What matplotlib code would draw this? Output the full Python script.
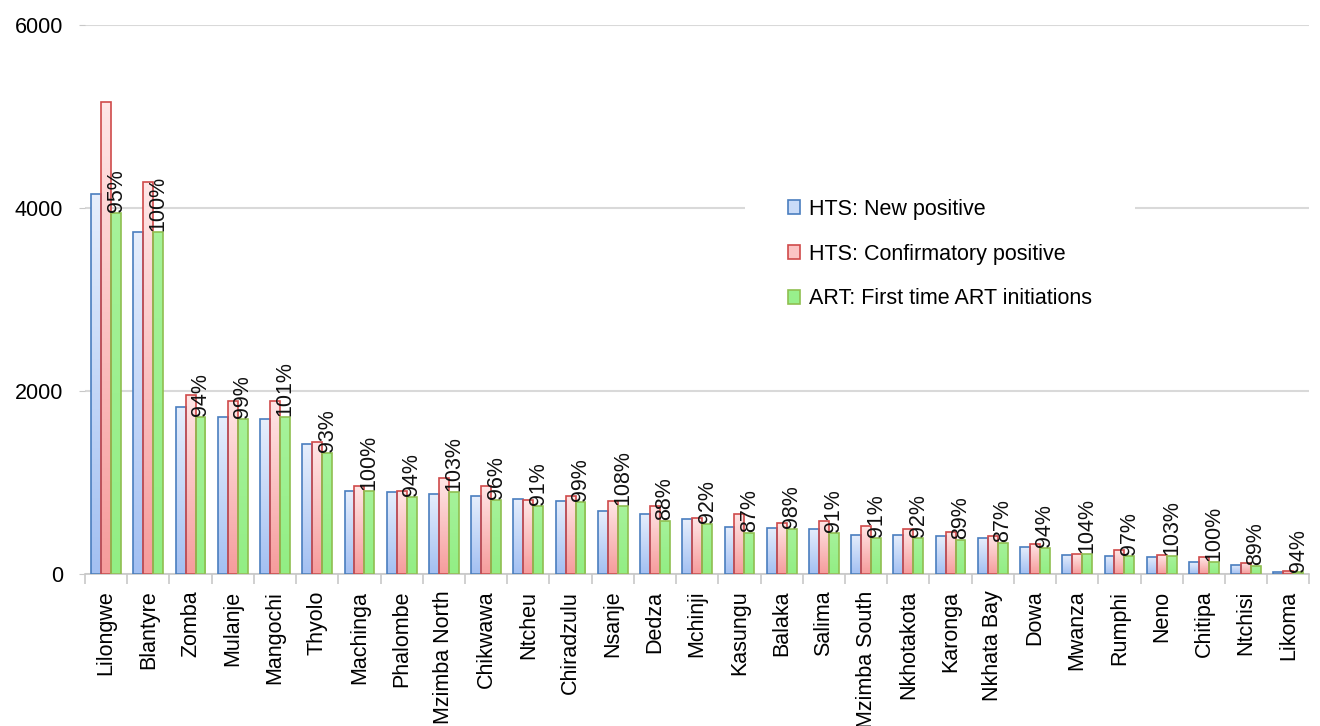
import numpy as np
import matplotlib
matplotlib.use('Agg')
import matplotlib.pyplot as plt
from matplotlib.colors import LinearSegmentedColormap
from matplotlib.patches import Patch

plt.rcParams['font.family'] = ['Liberation Sans', 'DejaVu Sans']

districts = ["Lilongwe", "Blantyre", "Zomba", "Mulanje", "Mangochi", "Thyolo",
             "Machinga", "Phalombe", "Mzimba North", "Chikwawa", "Ntcheu",
             "Chiradzulu", "Nsanje", "Dedza", "Mchinji", "Kasungu", "Balaka",
             "Salima", "Mzimba South", "Nkhotakota", "Karonga", "Nkhata Bay",
             "Dowa", "Mwanza", "Rumphi", "Neno", "Chitipa", "Ntchisi", "Likoma"]

new_positive = [4150, 3740, 1824, 1714, 1699, 1420, 912, 894, 875, 850, 824,
                799, 685, 660, 598, 516, 505, 492, 429, 425, 414, 392, 300,
                208, 201, 190, 130, 100, 18]
confirmatory = [5160, 4280, 1956, 1890, 1890, 1442, 960, 908, 1048, 960, 806,
                853, 799, 747, 612, 659, 553, 582, 520, 491, 454, 414, 330,
                216, 260, 205, 183, 121, 33]
art_initiations = [3950, 3740, 1714, 1699, 1714, 1318, 912, 839, 900, 813,
                   747, 791, 740, 580, 548, 452, 495, 446, 392, 392, 368, 341,
                   282, 216, 195, 196, 130, 89, 17]
pct_labels = ["95%", "100%", "94%", "99%", "101%", "93%", "100%", "94%",
              "103%", "96%", "91%", "99%", "108%", "88%", "92%", "87%", "98%",
              "91%", "91%", "92%", "89%", "87%", "94%", "104%", "97%", "103%",
              "100%", "89%", "94%"]

series = [
    ("HTS: New positive", new_positive, "#4a7ebf", ["#a3c0f2", "#e6eefc"]),
    ("HTS: Confirmatory positive", confirmatory, "#cf4a4a", ["#f69c9c", "#ffe6e6"]),
    ("ART: First time ART initiations", art_initiations, "#8fbf50", ["#92ee84", "#a6f29a"]),
]

FS = 15.5

fig = plt.figure(figsize=(13.2, 7.26), dpi=100)
ax = fig.add_axes([0.0644, 0.2094, 0.9276, 0.7562])

n = len(districts)
x = np.arange(n)
w = 0.235
grad = np.linspace(0, 1, 64).reshape(-1, 1)

for k, (name, vals, edge, fills) in enumerate(series):
    cmap = LinearSegmentedColormap.from_list(name, fills)
    xs = x + (k - 1) * w
    bars = ax.bar(xs, vals, width=w, facecolor="none", edgecolor=edge,
                  linewidth=1.2, zorder=3)
    for b in bars:
        x0, y0 = b.get_x(), b.get_y()
        im = ax.imshow(grad, cmap=cmap, aspect='auto', origin='lower',
                       extent=[x0, x0 + b.get_width(), y0, y0 + b.get_height()],
                       zorder=2, interpolation='bilinear')
        im.set_clip_path(b)

# ART as a share of new positives, written above the green bars
for i in range(n):
    ax.text(x[i] + w, art_initiations[i] + 10, pct_labels[i], rotation=90,
            ha='center', va='bottom', fontsize=FS, color='#111111', zorder=4)

ax.set_xlim(-0.5, n - 0.5)
ax.set_ylim(0, 6000)
ax.set_yticks([0, 2000, 4000, 6000])
ax.tick_params(axis='y', length=4, color='#c8c8c8', labelsize=FS, pad=12)
ax.grid(axis='y', color='#d9d9d9', linewidth=1.5, zorder=0)
ax.set_axisbelow(True)

ax.set_xticks(x)
ax.set_xticklabels(districts, rotation=90, va='top', ha='center')
ax.tick_params(axis='x', which='major', length=0, labelsize=FS, pad=12)
ax.set_xticks(np.arange(-0.5, n), minor=True)
ax.tick_params(axis='x', which='minor', length=7, color='#c8c8c8', width=1.2)

for s in ['top', 'right', 'left']:
    ax.spines[s].set_visible(False)
ax.spines['bottom'].set_color('#c8c8c8')
ax.spines['bottom'].set_linewidth(1.2)

handles = [Patch(facecolor=c, edgecolor=e, linewidth=1.2) for c, e in
           [("#c9dbf8", "#4a7ebf"), ("#fbc4c4", "#cf4a4a"), ("#98f08c", "#8fbf50")]]
leg = ax.legend(handles, [s[0] for s in series], loc='center',
                bbox_to_anchor=(0.712, 0.650), bbox_transform=fig.transFigure,
                fontsize=FS, frameon=True, facecolor='white', edgecolor='none',
                framealpha=1, fancybox=False, borderpad=2.0, labelspacing=1.1,
                handlelength=0.6, handleheight=0.6, handletextpad=0.4)
leg.set_zorder(5)

fig.savefig("out.png", dpi=100)
